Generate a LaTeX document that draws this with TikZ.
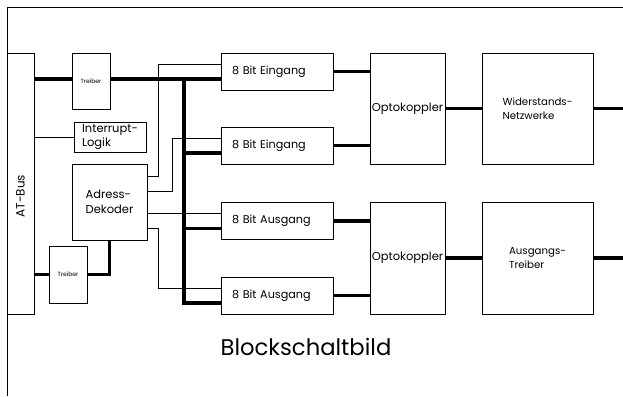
\documentclass[tikz,border=0pt]{standalone}
\usepackage{fontspec}
\setmainfont{Poppins}
\begin{document}
\begin{tikzpicture}[x=1pt,y=-1pt,
    box/.style={draw,line width=.9pt,inner sep=0pt,align=left,font=\fontsize{11.5}{14.5}\selectfont},
    bitbox/.style={box,minimum height=37,text width=90,inner xsep=11,font=\fontsize{11.2}{13}\selectfont},
    small/.style={font=\fontsize{6}{7}\selectfont},
    wide/.style={font=\fontsize{10.2}{14.5}\selectfont},
    bus/.style={line width=3.2pt},
    sig/.style={line width=.9pt}]
  \useasboundingbox[fill=white] (0,0) rectangle (623,396);
  \draw[line width=.9pt] (623,7) -| (7,396);
  % left column
  \node[box,minimum width=27,minimum height=261] (atbus) at (20.5,183.5) {};
  \node[font=\fontsize{12}{14}\selectfont,rotate=90] (bustxt) at (20.5,196) {AT-Bus};
  \node[box,small,minimum width=38,minimum height=56] (tr1) at (91,81) {Treiber};
  \node[box,minimum width=72,minimum height=30] (irq) at (110,137) {Interrupt-\\Logik};
  \node[box,minimum width=75,minimum height=76] (adr) at (109.5,202) {Adress-\\Dekoder};
  \node[box,small,minimum width=38,minimum height=57] (tr2) at (68,274.5) {Treiber};
  % ports
  \foreach \n/\y/\t in {e1/71.5/Eingang,e2/145.5/Eingang,a1/221/Ausgang,a2/295.5/Ausgang}
    \node[bitbox] (\n) at (277,\y) {8 Bit \t};
  \node[box,minimum width=75,minimum height=111] (op1) at (407.5,108.5) {Optokoppler};
  \node[box,minimum width=75,minimum height=112] (op2) at (407.5,258) {Optokoppler};
  \node[box,wide,minimum width=111,minimum height=111] (wid) at (537.5,108.5) {Widerstands-\\Netzwerke};
  \node[box,wide,minimum width=111,minimum height=112] (aus) at (537.5,258) {Ausgangs-\\Treiber};
  \node[font=\fontsize{22.7}{26}\selectfont] (title) at (306,347) {Blockschaltbild};
  \coordinate (ja) at (158,0);
  \coordinate (jb) at (172,0);
  \coordinate (bus) at (184,0);
  \coordinate (edge) at (623,0);
  \foreach \n in {e1,e2,a1,a2}{
    \coordinate (\n-s) at ([yshift=7.5pt]\n.west);
    \coordinate (\n-b) at ([yshift=-7.5pt]\n.west);
  }
  % data bus
  \draw[bus] (atbus.east |- e1-b) -- (tr1.west |- e1-b);
  \draw[bus] (tr1.east |- e1-b) -- (e1-b);
  \draw[bus] (bus |- e1-b) -- (bus |- a2-b) -- (a2-b);
  \draw[bus] (bus |- e2-b) -- (e2-b);
  \draw[bus] (bus |- a1-b) -- (a1-b);
  \draw[bus] (atbus.east |- tr2) -- (tr2.west);
  \draw[bus] (tr2.east) -| (adr.south);
  % select lines
  \draw[sig] (atbus.east |- irq) -- (irq.west);
  \draw[sig] ([yshift=26pt]adr.east) -| (ja |- e1-s) -- (e1-s);
  \draw[sig] ([yshift=11pt]adr.east) -| (jb |- e2-s) -- (e2-s);
  \draw[sig] (adr.east |- a1-s) -- (a1-s);
  \draw[sig] ([yshift=-26pt]adr.east) -| (ja |- a2-s) -- (a2-s);
  \foreach \n/\o in {e1/op1,e2/op1,a1/op2,a2/op2}
    \draw[bus] (\n.east) -- (\o.west |- \n.east);
  \draw[bus] (op1.east) -- (wid.west);
  \draw[bus] (wid.east) -- (edge |- wid.east);
  \draw[bus] (op2.east) -- (aus.west);
  \draw[bus] (aus.east) -- (edge |- aus.east);
\end{tikzpicture}
\end{document}
